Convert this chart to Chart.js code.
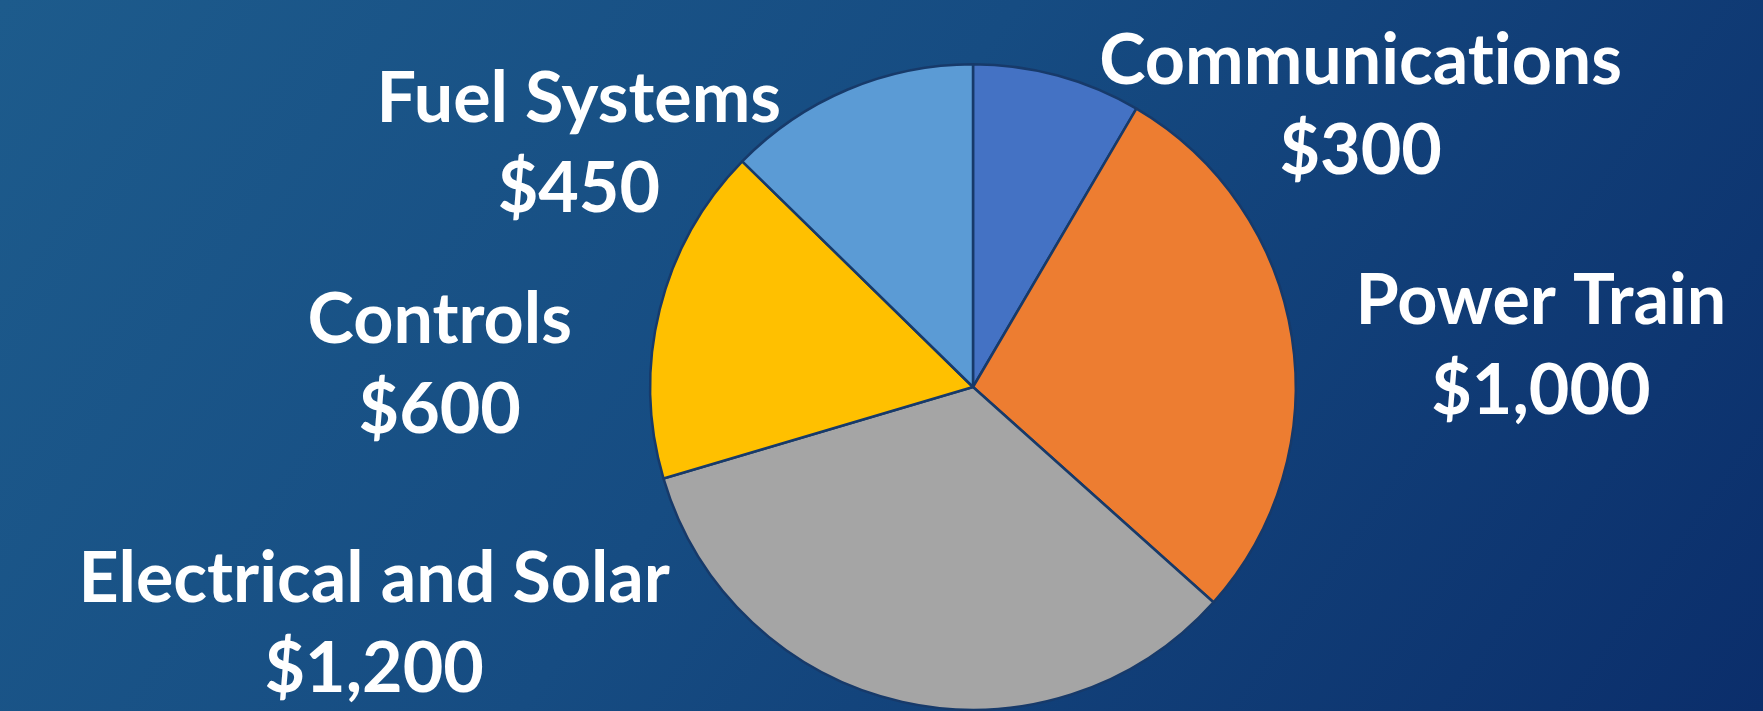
<!DOCTYPE html>
<html>
<head>
<meta charset="utf-8">
<script src="https://cdn.jsdelivr.net/npm/chart.js@4.4.0/dist/chart.umd.min.js"></script>
<style>
  html, body { margin: 0; padding: 0; }
  body {
    width: 1763px; height: 711px; overflow: hidden;
    background: linear-gradient(125deg, #1d5b8c 0%, #164c82 45%, #0b2e6b 100%);
  }
  #wrap { position: relative; width: 1763px; height: 711px; }
</style>
</head>
<body>
<div id="wrap"><canvas id="pieChart"></canvas></div>
<script>
const categories = ['Communications', 'Power Train', 'Electrical and Solar', 'Controls', 'Fuel Systems'];
const amounts = [300, 1000, 1200, 600, 450];
const sliceColors = ['#4472c4', '#ed7d31', '#a5a5a5', '#ffc000', '#5b9bd5'];

// where each label's first baseline sits, relative to the slice's outer midpoint
const labelOffsets = [[303, 8], [249, -13], [-528, -100], [-220, 34], [-269, 32]];

function money(v) {
  return '$' + v.toLocaleString('en-US');
}

const outsideLabels = {
  id: 'outsideLabels',
  afterDatasetsDraw(chart) {
    const ctx = chart.ctx;
    const meta = chart.getDatasetMeta(0);
    ctx.save();
    ctx.fillStyle = '#ffffff';
    ctx.font = 'bold 70px Lato';
    ctx.textRendering = 'optimizeSpeed'; // no "ti" ligature
    ctx.textAlign = 'center';
    ctx.textBaseline = 'alphabetic';
    meta.data.forEach((arc, i) => {
      const p = arc.getProps(['x', 'y', 'startAngle', 'endAngle', 'outerRadius'], true);
      const mid = (p.startAngle + p.endAngle) / 2;
      const ax = p.x + Math.cos(mid) * p.outerRadius;
      const ay = p.y + Math.sin(mid) * p.outerRadius;
      const [dx, dy] = labelOffsets[i];
      ctx.fillText(categories[i], ax + dx, ay + dy);
      ctx.fillText(money(amounts[i]), ax + dx, ay + dy + 90);
    });
    ctx.restore();
  }
};

function init() {
  const ctx = document.getElementById('pieChart').getContext('2d');
  new Chart(ctx, {
    type: 'pie',
    data: {
      labels: categories,
      datasets: [{
        data: amounts,
        backgroundColor: sliceColors,
        borderColor: '#173a6a',
        borderWidth: 2.5
      }]
    },
    options: {
      responsive: false,
      animation: false,
      layout: { padding: { top: 63, bottom: 0, left: 649, right: 466 } },
      plugins: { legend: { display: false }, tooltip: { enabled: false } }
    },
    plugins: [outsideLabels]
  });
}

const cv = document.getElementById('pieChart');
cv.width = 1763;
cv.height = 711;
window.addEventListener('DOMContentLoaded', init);
</script>
</body>
</html>
